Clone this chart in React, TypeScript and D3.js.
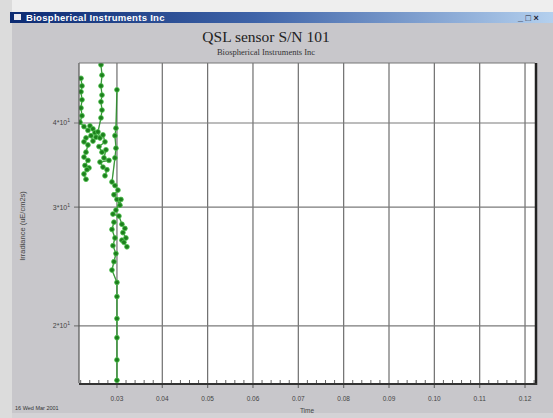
import React from "react";
import * as d3 from "d3";

const W = 553;
const H = 418;

const chartTitle = "QSL sensor S/N 101";
const chartSubtitle = "Biospherical Instruments Inc";
const windowTitle = "Biospherical Instruments Inc";
const xTitle = "Time";
const yTitle = "Irradiance (uE/cm2s)";
const statusText = "16 Wed Mar 2001";

const xTicks = [0.03, 0.04, 0.05, 0.06, 0.07, 0.08, 0.09, 0.1, 0.11, 0.12];
const xTickLabels = ["0.03", "0.04", "0.05", "0.06", "0.07", "0.08", "0.09", "0.10", "0.11", "0.12"];
const yTicks = [40, 30, 20];
const yTickMantissa = ["4", "3", "2"];

// time series (in sampling order); null marks a gap between recorded runs
const times = [
  0.02207, 0.02229, 0.02207, 0.02229, 0.02207, 0.02229, 0.02185,
  0.02273, 0.02361, 0.02405, 0.02471, 0.02515, 0.02537, 0.02471, 0.02427, 0.02317, 0.02273, 0.02361,
  0.02317, 0.02273, 0.02361, 0.02295, 0.02383, 0.02339, 0.02273, 0.02317,
  null,
  0.02648, 0.0267, 0.02648, 0.0267, 0.02648, 0.0267, 0.02648,
  0.02581, 0.02626, 0.02692, 0.02736, 0.02604, 0.0267, 0.02758, 0.02714, 0.02824, 0.02626, 0.02692, 0.0278, 0.02736,
  null,
  0.03, 0.02978, 0.02956, 0.02978, 0.02956,
  0.0289, 0.02956, 0.03022, 0.02934, 0.03, 0.03066, 0.03088, 0.02978, 0.02912, 0.03044,
  0.0311, 0.03176, 0.03132, 0.03198, 0.0311, 0.03154, 0.0322,
  null,
  0.02934, 0.0289, 0.02956, 0.02912, 0.02978, 0.02934, 0.0289,
  0.03, 0.03, 0.03, 0.03, 0.03, 0.03,
];
const values = [
  46.6, 45.4, 44.5, 43.3, 42.1, 41.0, 40.1,
  39.5, 39.0, 39.6, 39.2, 38.7, 38.1, 37.6, 38.3, 38.0, 37.5, 37.1,
  36.2, 35.6, 35.2, 34.6, 34.3, 34.1, 33.6, 33.0,
  null,
  48.8, 47.1, 45.4, 44.0, 43.0, 41.8, 40.7,
  38.8, 38.0, 38.4, 37.5, 36.9, 36.2, 36.5, 35.5, 35.2, 35.0, 34.4, 34.1, 33.4,
  null,
  44.8, 39.3, 38.3, 36.7, 35.5,
  32.7, 32.3, 31.8, 31.3, 30.8, 30.2, 30.8, 29.7, 29.3, 29.1,
  28.3, 27.9, 27.5, 27.0, 26.8, 26.6, 26.2,
  null,
  28.5, 27.8, 27.0, 26.3, 25.6, 24.9, 24.2,
  23.2, 22.1, 20.5, 19.2, 17.8, 16.6,
];

const plot = { left: 79, top: 63, right: 535, bottom: 383 };

export default function App() {
  const x = d3.scaleLinear().domain([0.02163, 0.1222]).range([plot.left, plot.right]);
  const y = d3.scaleLog().domain([16.45, 49.1]).range([plot.bottom, plot.top]);

  const pts = times.map((t, i) => [t, values[i]] as [number | null, number | null]);
  const line = d3
    .line<[number | null, number | null]>()
    .defined((d) => d[0] != null && d[1] != null)
    .x((d) => x(d[0] as number))
    .y((d) => y(d[1] as number));
  const dots = pts.filter((d) => d[0] != null && d[1] != null) as [number, number][];

  const minorTicks = d3.range(0.022, 0.1221, 0.002).filter(
    (v) => Math.abs(Math.round(v * 100) - v * 100) > 1e-6
  );

  return (
    <svg
      width={W}
      height={H}
      style={{ position: "absolute", left: 0, top: 0, display: "block" }}
      fontFamily="Liberation Sans, Arial, sans-serif"
    >
      <defs>
        <linearGradient id="tb" x1="0" x2="1" y1="0" y2="0">
          <stop offset="0" stopColor="#0c2a72" />
          <stop offset="0.45" stopColor="#3e63a8" />
          <stop offset="1" stopColor="#b4d0ee" />
        </linearGradient>
        <clipPath id="pc">
          <rect x={plot.left} y={plot.top} width={plot.right - plot.left} height={plot.bottom - plot.top} />
        </clipPath>
      </defs>
      {/* page / window background */}
      <rect x={0} y={0} width={W} height={H} fill="#eeeeee" />
      <rect x={12} y={12} width={W - 12} height={H - 12} fill="#c8c7cb" />
      <rect x={0} y={0} width={12} height={H} fill="#dcdcdc" />
      <rect x={12} y={413} width={W - 12} height={5} fill="#d4d3d6" />
      {/* title bar */}
      <rect x={10} y={12} width={W - 10} height={11} fill="url(#tb)" />
      <rect x={14} y={14} width={7} height={6} fill="#e8e8f0" />
      <text x={26} y={21} fill="#ffffff" fontSize={9.5} fontWeight="bold" letterSpacing={0.3}>
        {windowTitle}
      </text>
      <text x={518} y={21} fill="#223" fontSize={9} fontWeight="bold">
        _ □ ×
      </text>

      {/* chart titles */}
      <text x={266} y={42} textAnchor="middle" fontFamily="Liberation Serif, serif" fontSize={15.5} fill="#222">
        {chartTitle}
      </text>
      <text x={266} y={55} textAnchor="middle" fontFamily="Liberation Serif, serif" fontSize={8.5} fill="#333">
        {chartSubtitle}
      </text>

      {/* plot area */}
      <rect x={plot.left} y={plot.top} width={plot.right - plot.left} height={plot.bottom - plot.top} fill="#ffffff" />

      {/* grid */}
      {xTicks.map((t) => (
        <line key={"gx" + t} x1={x(t)} x2={x(t)} y1={plot.top} y2={plot.bottom + 5} stroke="#6e6e6e" strokeWidth={1.2} />
      ))}
      {yTicks.map((t) => (
        <line key={"gy" + t} x1={plot.left - 5} x2={plot.right} y1={y(t)} y2={y(t)} stroke="#7a7a7a" strokeWidth={1.2} />
      ))}
      {minorTicks.map((t) => (
        <line key={"mx" + t} x1={x(t)} x2={x(t)} y1={plot.bottom - 3} y2={plot.bottom} stroke="#666" strokeWidth={1} />
      ))}

      {/* data */}
      <g clipPath="url(#pc)">
        <path d={line(pts) || ""} fill="none" stroke="#46b846" strokeWidth={1.4} opacity={0.8} />
        <path d={line(pts) || ""} fill="none" stroke="#1a6a1a" strokeWidth={0.6} />
        {dots.map((d, i) => (
          <circle key={i} cx={x(d[0])} cy={y(d[1])} r={2.4} fill="#1d7f1d" stroke="#4cc04c" strokeWidth={0.8} />
        ))}
      </g>

      {/* plot border */}
      <line x1={plot.left} x2={plot.left} y1={plot.top} y2={plot.bottom} stroke="#555" strokeWidth={1.2} />
      <line x1={plot.left} x2={plot.right} y1={plot.top} y2={plot.top} stroke="#777" strokeWidth={1} />
      <line x1={plot.right + 1} x2={plot.right + 1} y1={plot.top} y2={plot.bottom + 2} stroke="#222" strokeWidth={2.5} />
      <line x1={plot.left} x2={plot.right + 2} y1={plot.bottom + 1} y2={plot.bottom + 1} stroke="#333" strokeWidth={2} />

      {/* x tick labels */}
      {xTicks.map((t, i) => (
        <text key={"xl" + t} x={x(t)} y={401} textAnchor="middle" fontSize={6.5} fill="#444">
          {xTickLabels[i]}
        </text>
      ))}
      {/* y tick labels */}
      {yTicks.map((t, i) => (
        <text key={"yl" + t} x={70} y={y(t) + 2.5} textAnchor="end" fontSize={7} fill="#444">
          {yTickMantissa[i]}*10
          <tspan dy={-3} fontSize={5}>1</tspan>
        </text>
      ))}

      {/* axis titles */}
      <text x={307} y={413} textAnchor="middle" fontSize={6.5} fill="#444">
        {xTitle}
      </text>
      <text
        transform={`translate(25,226) rotate(-90)`}
        textAnchor="middle"
        fontSize={7.5}
        fill="#444"
      >
        {yTitle}
      </text>
      <text x={15} y={410} fontSize={5.5} fill="#333">
        {statusText}
      </text>
    </svg>
  );
}
